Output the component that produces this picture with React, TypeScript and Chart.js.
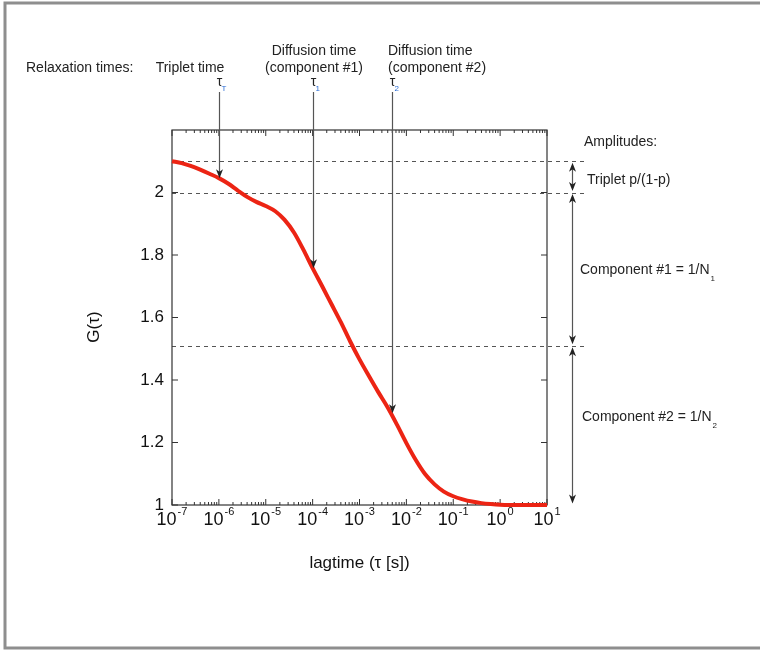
import React, { useEffect, useRef } from "react";
import { Chart, registerables } from "chart.js";

Chart.register(...registerables);

// ---- data ----
const lagTime = [
  1.0e-7, 1.6e-7, 2.5e-7, 4.0e-7, 6.3e-7,
  1.0e-6, 1.6e-6, 2.5e-6, 4.0e-6, 6.3e-6,
  1.0e-5, 1.6e-5, 2.5e-5, 4.0e-5, 6.3e-5,
  1.0e-4, 1.6e-4, 2.5e-4, 4.0e-4, 6.3e-4,
  1.0e-3, 1.6e-3, 2.5e-3, 4.0e-3, 6.3e-3,
  1.0e-2, 1.6e-2, 2.5e-2, 4.0e-2, 6.3e-2,
  1.0e-1, 1.6e-1, 2.5e-1, 4.0e-1, 6.3e-1,
  1.0, 3.2, 10,
];
const gValues = [
  2.100, 2.094, 2.085, 2.073, 2.060,
  2.046, 2.028, 2.007, 1.986, 1.970,
  1.957, 1.940, 1.913, 1.872, 1.818,
  1.758, 1.700, 1.644, 1.585, 1.524,
  1.466, 1.412, 1.362, 1.312, 1.257,
  1.198, 1.143, 1.099, 1.066, 1.043,
  1.028, 1.018, 1.011, 1.006, 1.003,
  1.001, 1.000, 1.000,
];

const xTickExponents = [-7, -6, -5, -4, -3, -2, -1, 0, 1];
const yTicks = [1, 1.2, 1.4, 1.6, 1.8, 2];
const yTickLabels = ["1", "1.2", "1.4", "1.6", "1.8", "2"];

// relaxation times (arrows from top)
const relaxTimes = [1e-6, 1e-4, 4.9e-3];
const relaxG = [2.046, 1.758, 1.294];
const relaxSubs = ["T", "1", "2"];

// amplitude levels (dashed lines)
const amplitudeLevels = [2.1, 2.0, 1.51, 1.0];

const FONT = "'Liberation Sans', Arial, Helvetica, sans-serif";

function drawArrowHead(ctx: CanvasRenderingContext2D, x: number, y: number, dir: number) {
  // dir: 1 = pointing down, -1 = pointing up
  ctx.beginPath();
  ctx.moveTo(x, y);
  ctx.lineTo(x - 3.5, y - dir * 9);
  ctx.lineTo(x, y - dir * 6.5);
  ctx.lineTo(x + 3.5, y - dir * 9);
  ctx.closePath();
  ctx.fill();
}

const decorPlugin = {
  id: "decor",
  beforeDatasetsDraw(chart: any) {
    const ctx: CanvasRenderingContext2D = chart.ctx;
    const xs = chart.scales.x;
    const ys = chart.scales.y;
    const { left, right, top, bottom } = chart.chartArea;
    ctx.save();

    // outer frame
    ctx.strokeStyle = "#8e8e8e";
    ctx.lineWidth = 3;
    ctx.beginPath();
    ctx.moveTo(765, 3);
    ctx.lineTo(5, 3);
    ctx.lineTo(5, 648);
    ctx.lineTo(765, 648);
    ctx.stroke();

    // dashed amplitude lines
    ctx.strokeStyle = "#555";
    ctx.lineWidth = 1;
    ctx.setLineDash([4, 4]);
    amplitudeLevels.slice(0, 3).forEach((v) => {
      const y = Math.round(ys.getPixelForValue(v)) + 0.5;
      ctx.beginPath();
      ctx.moveTo(left, y);
      ctx.lineTo(584, y);
      ctx.stroke();
    });
    ctx.setLineDash([]);

    // plot box
    ctx.strokeStyle = "#333";
    ctx.lineWidth = 1.2;
    ctx.strokeRect(left, top, right - left, bottom - top);

    // x ticks (log, major + minor), inward on top and bottom
    ctx.lineWidth = 1;
    ctx.beginPath();
    xTickExponents.forEach((e, i) => {
      const x = xs.getPixelForValue(Math.pow(10, e));
      ctx.moveTo(x, bottom);
      ctx.lineTo(x, bottom - 6);
      ctx.moveTo(x, top);
      ctx.lineTo(x, top + 6);
      if (i < xTickExponents.length - 1) {
        for (let m = 2; m <= 9; m++) {
          const xm = xs.getPixelForValue(m * Math.pow(10, e));
          ctx.moveTo(xm, bottom);
          ctx.lineTo(xm, bottom - 3);
          ctx.moveTo(xm, top);
          ctx.lineTo(xm, top + 3);
        }
      }
    });
    // y ticks
    yTicks.forEach((v) => {
      const y = ys.getPixelForValue(v);
      ctx.moveTo(left, y);
      ctx.lineTo(left + 6, y);
      ctx.moveTo(right, y);
      ctx.lineTo(right - 6, y);
    });
    ctx.stroke();

    // y tick labels
    ctx.fillStyle = "#111";
    ctx.font = `17px ${FONT}`;
    ctx.textAlign = "right";
    ctx.textBaseline = "middle";
    yTicks.forEach((v, i) => {
      ctx.fillText(yTickLabels[i], left - 8, ys.getPixelForValue(v));
    });

    // x tick labels 10^e
    xTickExponents.forEach((e) => {
      const x = xs.getPixelForValue(Math.pow(10, e));
      ctx.font = `18px ${FONT}`;
      const wBase = ctx.measureText("10").width;
      ctx.font = `11px ${FONT}`;
      const sup = String(e);
      const wSup = ctx.measureText(sup).width;
      const total = wBase + 1 + wSup;
      const x0 = x - total / 2;
      ctx.textAlign = "left";
      ctx.textBaseline = "alphabetic";
      ctx.font = `18px ${FONT}`;
      ctx.fillText("10", x0, 525);
      ctx.font = `11px ${FONT}`;
      ctx.fillText(sup, x0 + wBase + 1, 515);
    });

    // axis titles
    ctx.font = `17px ${FONT}`;
    ctx.textAlign = "center";
    ctx.textBaseline = "middle";
    ctx.fillStyle = "#111";
    ctx.fillText("lagtime (\u03c4 [s])", (left + right) / 2, 563);
    ctx.save();
    ctx.translate(94, 327);
    ctx.rotate(-Math.PI / 2);
    ctx.fillText("G(\u03c4)", 0, 0);
    ctx.restore();

    ctx.restore();
  },
  afterDatasetsDraw(chart: any) {
    const ctx: CanvasRenderingContext2D = chart.ctx;
    const xs = chart.scales.x;
    const ys = chart.scales.y;
    ctx.save();

    // top annotation texts
    ctx.fillStyle = "#222";
    ctx.font = `14px ${FONT}`;
    ctx.textBaseline = "middle";
    ctx.textAlign = "left";
    ctx.fillText("Relaxation times:", 26, 68);
    ctx.textAlign = "center";
    ctx.fillText("Triplet time", 190, 68);
    ctx.fillText("Diffusion time", 314, 51);
    ctx.fillText("(component #1)", 314, 68);
    ctx.textAlign = "left";
    ctx.fillText("Diffusion time", 388, 51);
    ctx.fillText("(component #2)", 388, 68);

    // relaxation arrows
    relaxTimes.forEach((t, i) => {
      const x = Math.round(xs.getPixelForValue(t)) + 0.5;
      const yTip = ys.getPixelForValue(relaxG[i]);
      ctx.strokeStyle = "#555";
      ctx.lineWidth = 1.2;
      ctx.beginPath();
      ctx.moveTo(x, 92);
      ctx.lineTo(x, yTip - 4);
      ctx.stroke();
      ctx.fillStyle = "#222";
      drawArrowHead(ctx, x, yTip, 1);
      // tau label
      ctx.fillStyle = "#222";
      ctx.font = `14px ${FONT}`;
      ctx.textAlign = "center";
      ctx.textBaseline = "alphabetic";
      ctx.fillText("\u03c4", x, 86);
      ctx.fillStyle = "#2b6cd4";
      ctx.font = `8px ${FONT}`;
      ctx.textAlign = "left";
      ctx.fillText(relaxSubs[i], x + 2, 91);
    });

    // right amplitude arrows
    const ax = 572.5;
    ctx.strokeStyle = "#555";
    ctx.fillStyle = "#222";
    ctx.lineWidth = 1.2;
    for (let i = 0; i < amplitudeLevels.length - 1; i++) {
      const y1 = ys.getPixelForValue(amplitudeLevels[i]) + 1.5;
      const y2 = ys.getPixelForValue(amplitudeLevels[i + 1]) - 1.5;
      ctx.beginPath();
      ctx.moveTo(ax, y1 + 4);
      ctx.lineTo(ax, y2 - 4);
      ctx.stroke();
      drawArrowHead(ctx, ax, y1, -1);
      drawArrowHead(ctx, ax, y2, 1);
    }

    // right texts
    ctx.fillStyle = "#222";
    ctx.font = `14px ${FONT}`;
    ctx.textAlign = "left";
    ctx.textBaseline = "middle";
    ctx.fillText("Amplitudes:", 584, 142);
    ctx.fillText("Triplet p/(1-p)", 587, 180);
    const t1 = "Component #1 = 1/N";
    ctx.fillText(t1, 580, 270);
    const w1 = ctx.measureText(t1).width;
    const t2 = "Component #2 = 1/N";
    ctx.fillText(t2, 582, 417);
    const w2 = ctx.measureText(t2).width;
    ctx.font = `8px ${FONT}`;
    ctx.fillText("1", 580 + w1 + 1, 279);
    ctx.fillText("2", 582 + w2 + 1, 426);

    ctx.restore();
  },
};

export default function App() {
  const ref = useRef<HTMLCanvasElement | null>(null);
  useEffect(() => {
    if (!ref.current) return;
    const chart = new Chart(ref.current, {
      type: "line",
      data: {
        datasets: [
          {
            data: lagTime.map((t, i) => ({ x: t, y: gValues[i] })),
            borderColor: "#ec2414",
            borderWidth: 4,
            pointRadius: 0,
            cubicInterpolationMode: "monotone",
            clip: false,
          } as any,
        ],
      },
      options: {
        animation: false,
        responsive: false,
        devicePixelRatio: 1,
        layout: { padding: { left: 172, right: 213, top: 130, bottom: 147 } },
        plugins: { legend: { display: false }, tooltip: { enabled: false } },
        scales: {
          x: { type: "logarithmic", min: 1e-7, max: 10, display: false },
          y: { type: "linear", min: 1, max: 2.2, display: false },
        },
      },
      plugins: [decorPlugin],
    });
    return () => chart.destroy();
  }, []);
  return (
    <div style={{ position: "fixed", left: 0, top: 0, width: 760, height: 652, background: "#fff" }}>
      <canvas ref={ref} width={760} height={652} style={{ display: "block" }} />
    </div>
  );
}
